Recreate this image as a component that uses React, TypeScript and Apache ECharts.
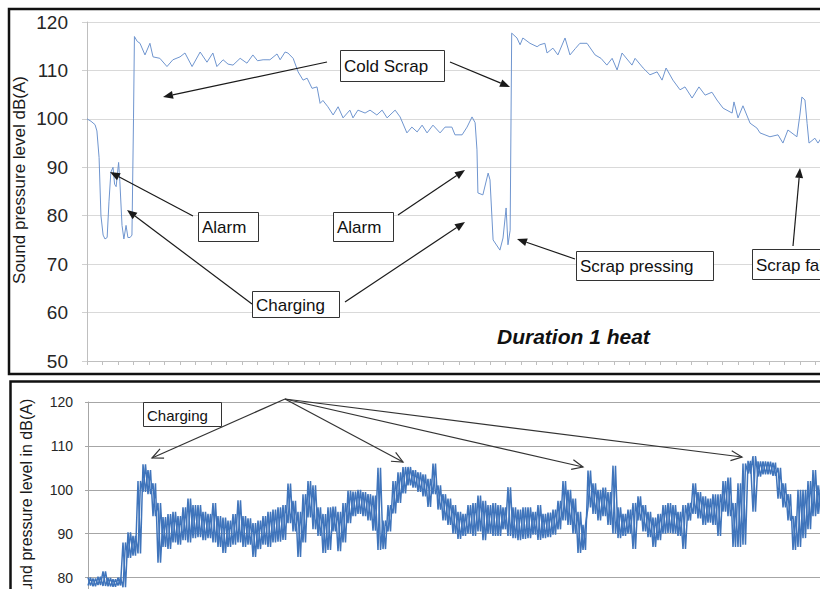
import React, { useEffect, useRef } from "react";
import * as echarts from "echarts";

// ---------- Top chart: one heat (time in arbitrary units, level in dB(A)) ----------
const topTime = [
  0, 1.3, 2.6, 3.2, 3.9, 4.5, 5.2, 5.8, 6.5, 7.1, 7.7, 8.4, 8.9, 9.4, 10.2, 10.6, 11.3, 11.9, 12.6, 13.2,
  13.9, 14.5, 15.0, 15.3, 16.2, 17.1, 18.7, 20.3, 21.3, 23.5, 25.8, 27.7, 30, 31.6, 33.9, 36.5, 38.7, 40.6,
  41.9, 43.9, 45.5, 47.1, 49.4, 51.6, 53.5, 55, 56.8, 59, 61.3, 62.3, 63.9, 64.8, 66.5, 68.1, 69.7, 71, 72.6,
  74.2, 75.2, 76.1, 77.7, 79.4, 81, 82.6, 84.8, 85.8, 87.4, 89.7, 91.3, 93.5, 95.2, 96.8, 98.4, 99.4, 101,
  103.2, 104.8, 106.5, 108.1, 109.7, 111.6, 113.9, 115.5, 117.7, 118.7, 121, 122.6, 124.2, 125.2, 125.8,
  126.1, 127.7, 129.4, 130, 131, 133.2, 134.2, 135.2, 135.8, 136.5, 137, 138.7, 139.7, 140.6, 142.9, 145.2,
  146.1, 147.7, 148.4, 150.3, 151.9, 154.2, 155.8, 157.5, 159, 161.3, 163.9, 165.8, 167.7, 169.4, 171,
  172.6, 175.8, 176.8, 179.4, 181.6, 183.9, 185.5, 186.8, 189, 191.3, 192.9, 195.2, 197.4, 199.4, 201.6,
  203.2, 205.2, 208.1, 208.7, 210, 211.6, 213.9, 216.1, 217.1, 218.7, 220.3, 222.9, 224.5, 226.1, 229, 230,
  230.6, 231.6, 232.3, 232.9, 234.8, 235.8, 237.1, 239,
];
const topLevel = [
  100, 99.5, 98.8, 97.5, 92, 80, 76, 75.2, 75.5, 83, 89, 90, 86.5, 86, 91, 87, 78, 75.2, 78, 75.5,
  75.5, 76, 100, 117, 116, 115.6, 113.2, 115.6, 112.8, 112.5, 110.8, 112.2, 112.8, 113.6, 110.8, 113.8, 111.7, 113.6,
  110.8, 112.2, 111.3, 111.1, 112.5, 111.5, 113.2, 112, 112.2, 112.2, 113.4, 112.2, 113.8, 113.6, 112.5, 109.7, 108, 108.4, 106.3,
  106.6, 103.2, 103.8, 102.5, 100.8, 102.5, 100.2, 101.8, 100.2, 101.8, 101.2, 101.8, 100.8, 101.8, 100.2, 101.2, 101.8, 100.4,
  97.1, 98.3, 97.3, 98.7, 97.1, 98.7, 97.1, 98.3, 98.3, 96.7, 96.7, 98.3, 100.4, 99.2, 93.6,
  84.7, 84.3, 88.8, 87.4, 75, 72.9, 75.4, 81.6, 74, 77, 117.7, 116.7, 115.3, 116.7, 115.6, 114.9,
  115.3, 115.6, 113.6, 114.6, 113.2, 116.7, 113.2, 114.5, 115.6, 115.6, 113.2, 112.5, 111.1, 112.5, 110.1,
  113.6, 111.1, 112.5, 110.5, 109.1, 109.7, 108, 110.5, 108, 106, 106.6, 104.3, 106.6, 104.9, 105.5,
  103.9, 102.2, 101.2, 103.5, 100.2, 102.7, 99.1, 98.1, 97.1, 96.7, 96.3, 96.7, 95, 97.7, 96.3, 101,
  104.5, 103.9, 99, 95, 96, 95, 96.3, 95.5,
];

// ---------- Bottom chart: dense recording, per-bin maximum / minimum in dB(A) ----------
const bottomMax = [
  80.0, 79.8, 80.2, 81.4, 79.9, 79.6, 80.0, 88.0, 90.3, 89.5, 102.0, 105.8, 104.5, 101.5, 97.0,
  93.8, 94.5, 95.0, 94.0, 96.0, 98.0, 96.5, 96.5, 95.0, 94.5, 97.0, 94.0, 93.7, 93.0, 94.5,
  97.6, 94.0, 93.5, 92.4, 93.0, 94.0, 95.0, 95.5, 96.0, 96.5, 101.4, 97.5, 95.0, 99.0, 102.0,
  101.0, 96.0, 94.5, 96.0, 96.2, 95.0, 97.0, 99.8, 99.6, 100.0, 99.5, 99.0, 98.7, 105.0, 93.0,
  96.5, 102.0, 104.0, 105.2, 105.2, 104.5, 104.0, 103.5, 102.5, 106.0, 101.0, 99.0, 98.0, 96.5, 95.0,
  94.5, 96.5, 97.0, 98.7, 97.5, 96.5, 97.0, 96.5, 96.0, 100.6, 96.0, 95.5, 96.0, 96.0, 95.0,
  96.5, 94.5, 94.8, 95.5, 97.5, 102.0, 100.0, 98.0, 95.0, 92.0, 104.4, 101.5, 100.0, 100.5, 99.5,
  105.5, 96.0, 94.5, 95.5, 97.0, 98.5, 96.5, 95.0, 93.7, 94.5, 96.5, 97.0, 96.5, 95.0, 96.5,
  97.0, 101.5, 99.5, 98.5, 98.0, 99.0, 99.0, 102.0, 102.8, 97.0, 101.5, 106.0, 106.6, 107.7, 106.5,
  106.5, 106.4, 106.2, 105.0, 101.5, 99.0, 94.0, 100.0, 100.0, 102.0, 104.5, 101.0,
];
const bottomMin = [
  78.2, 78.0, 78.3, 78.1, 78.0, 77.9, 78.2, 77.8, 84.5, 85.0, 85.5, 99.5, 99.0, 94.0, 83.4,
  87.0, 86.5, 88.0, 87.5, 88.5, 88.0, 89.0, 89.2, 88.5, 89.0, 88.0, 87.0, 85.6, 87.0, 87.5,
  88.0, 87.0, 87.5, 84.7, 86.5, 87.5, 87.0, 88.0, 88.2, 88.6, 92.4, 90.5, 84.7, 88.0, 93.7,
  91.0, 89.5, 85.6, 86.3, 90.5, 86.0, 88.0, 92.4, 94.0, 94.5, 94.0, 93.0, 90.7, 86.3, 86.5,
  90.5, 94.6, 97.0, 99.2, 101.0, 100.5, 99.5, 98.5, 96.1, 99.0, 95.5, 93.0, 92.0, 90.0, 88.8,
  89.5, 90.0, 89.5, 90.5, 88.5, 90.0, 89.5, 89.5, 91.0, 89.5, 89.0, 88.5, 88.8, 89.0, 89.8,
  88.6, 89.0, 89.2, 89.8, 91.0, 93.0, 92.0, 90.0, 85.6, 86.3, 96.0, 94.5, 93.0, 94.0, 92.0,
  90.0, 89.0, 89.5, 90.0, 86.5, 93.0, 90.5, 89.2, 87.0, 88.5, 90.0, 90.2, 90.0, 89.5, 86.5,
  93.0, 94.5, 93.5, 92.0, 92.5, 92.0, 89.5, 95.0, 94.0, 87.0, 87.0, 87.5, 103.7, 95.0, 103.0,
  103.5, 103.5, 103.2, 98.0, 96.0, 93.0, 86.3, 87.0, 89.0, 91.0, 94.0, 94.5,
];

const FONT = "'Liberation Sans', Arial, 'DejaVu Sans', sans-serif";

type Box = { text: string; x: number; y: number; w: number; h: number; size: number };
const boxes: Box[] = [
  { text: "Cold Scrap", x: 340, y: 50, w: 104, h: 31, size: 17 },
  { text: "Alarm", x: 198, y: 212, w: 60, h: 29, size: 17 },
  { text: "Alarm", x: 333, y: 212, w: 60, h: 29, size: 17 },
  { text: "Charging", x: 252, y: 291, w: 87, h: 26, size: 17 },
  { text: "Scrap pressing", x: 576, y: 251, w: 137, h: 29, size: 17 },
  { text: "Scrap falling", x: 752, y: 249, w: 140, h: 30, size: 17 },
  { text: "Charging", x: 143, y: 402, w: 78, h: 24, size: 15 },
];

// [x1, y1, x2 (head), y2 (head)]
const topArrows = [
  [327, 62, 163, 97],
  [450, 62, 510, 87],
  [193, 216, 110, 172],
  [398, 215, 465, 170],
  [252, 304, 127, 210],
  [345, 302, 465, 222],
  [575, 259, 517, 239],
  [793, 246, 800, 168],
];
const bottomArrowStart = [285, 399];
const bottomArrowHeads = [
  [152, 458],
  [403, 462],
  [583, 467],
  [742, 457],
];

function arrow(x1: number, y1: number, x2: number, y2: number, filled: boolean, color: string) {
  const a = Math.atan2(y2 - y1, x2 - x1);
  const L = filled ? 10 : 11;
  const W = filled ? 4 : 5;
  const bx = x2 - L * Math.cos(a);
  const by = y2 - L * Math.sin(a);
  const px = -Math.sin(a) * W;
  const py = Math.cos(a) * W;
  const els: any[] = [
    {
      type: "line",
      z: 50,
      shape: { x1, y1, x2: filled ? bx : x2, y2: filled ? by : y2 },
      style: { stroke: color, lineWidth: 1.2 },
    },
  ];
  if (filled) {
    els.push({
      type: "polygon",
      z: 50,
      shape: { points: [[x2, y2], [bx + px, by + py], [bx - px, by - py]] },
      style: { fill: color },
    });
  } else {
    els.push({
      type: "polyline",
      z: 50,
      shape: { points: [[bx + px, by + py], [x2, y2], [bx - px, by - py]] },
      style: { stroke: color, lineWidth: 1.2, fill: null },
    });
  }
  return els;
}

export default function App() {
  const ref = useRef<HTMLDivElement>(null);

  useEffect(() => {
    if (!ref.current) return;
    const chart = echarts.init(ref.current, null, { renderer: "svg" });

    const topData = topTime.map((t, i) => [t, topLevel[i]]);
    // each bin drawn as max->min and as min->max, giving the dense hatched band of the recording
    const bottomDataA: number[][] = [];
    const bottomDataB: number[][] = [];
    bottomMax.forEach((mx, i) => {
      bottomDataA.push([i, mx]);
      bottomDataA.push([i + 0.5, bottomMin[i]]);
      bottomDataB.push([i, bottomMin[i]]);
      bottomDataB.push([i + 0.5, mx]);
    });

    const graphics: any[] = [
      {
        type: "rect",
        z: 1,
        silent: true,
        shape: { x: 9, y: 9, width: 880, height: 365 },
        style: { fill: null, stroke: "#111", lineWidth: 2.5 },
      },
      {
        type: "rect",
        z: 1,
        silent: true,
        shape: { x: 10.5, y: 381.5, width: 880, height: 300 },
        style: { fill: null, stroke: "#111", lineWidth: 2.5 },
      },
      {
        type: "text",
        z: 60,
        x: 19,
        y: 180,
        rotation: Math.PI / 2,
        style: {
          text: "Sound pressure level dB(A)",
          fontSize: 17,
          fontFamily: FONT,
          fill: "#1a1a1a",
          align: "center",
          verticalAlign: "middle",
        },
      },
      {
        type: "text",
        z: 60,
        x: 26,
        y: 505,
        rotation: Math.PI / 2,
        style: {
          text: "Sound pressure level in dB(A)",
          fontSize: 16,
          fontFamily: FONT,
          fill: "#1a1a1a",
          align: "center",
          verticalAlign: "middle",
        },
      },
      {
        type: "text",
        z: 60,
        x: 497,
        y: 336,
        style: {
          text: "Duration 1 heat",
          fontSize: 21,
          fontWeight: "bold",
          fontStyle: "italic",
          fontFamily: FONT,
          fill: "#111",
          align: "left",
          verticalAlign: "middle",
        },
      },
    ];

    boxes.forEach((b) => {
      graphics.push({
        type: "rect",
        z: 70,
        shape: { x: b.x + 0.5, y: b.y + 0.5, width: b.w, height: b.h },
        style: { fill: "#ffffff", stroke: "#333", lineWidth: 1 },
      });
      graphics.push({
        type: "text",
        z: 71,
        x: b.x + 4,
        y: b.y + b.h / 2 + 1,
        style: {
          text: b.text,
          fontSize: b.size,
          fontFamily: FONT,
          fill: "#111",
          align: "left",
          verticalAlign: "middle",
        },
      });
    });

    topArrows.forEach(([x1, y1, x2, y2]) => graphics.push(...arrow(x1, y1, x2, y2, true, "#1a1a1a")));
    bottomArrowHeads.forEach(([x2, y2]) =>
      graphics.push(...arrow(bottomArrowStart[0], bottomArrowStart[1], x2, y2, false, "#333"))
    );

    const bottomLine = { color: "#3f74bb", width: 1.5 };

    chart.setOption({
      animation: false,
      backgroundColor: "#ffffff",
      textStyle: { fontFamily: FONT },
      grid: [
        { left: 87, top: 22, width: 775, height: 339 },
        { left: 88, top: 402, width: 750, height: 219.5 },
      ],
      xAxis: [
        {
          type: "value",
          gridIndex: 0,
          min: 0,
          max: 250,
          interval: 5,
          axisLabel: { show: false },
          axisLine: { show: true, lineStyle: { color: "#bfbfbf" } },
          axisTick: { show: true, length: 4, lineStyle: { color: "#bfbfbf" } },
          splitLine: { show: false },
        },
        {
          type: "value",
          gridIndex: 1,
          min: 0,
          max: 150,
          interval: 10,
          axisLabel: { show: false },
          axisLine: { show: true, lineStyle: { color: "#a6a6a6" } },
          axisTick: { show: false },
          splitLine: { show: false },
        },
      ],
      yAxis: [
        {
          type: "value",
          gridIndex: 0,
          min: 50,
          max: 120,
          interval: 10,
          axisLine: { show: true, lineStyle: { color: "#bfbfbf" } },
          axisTick: { show: true, length: 5, lineStyle: { color: "#d0d0d0" } },
          splitLine: { show: true, lineStyle: { color: "#d9d9d9" } },
          axisLabel: { fontSize: 19, color: "#262626", margin: 19, fontFamily: FONT },
        },
        {
          type: "value",
          gridIndex: 1,
          min: 70,
          max: 120,
          interval: 10,
          axisLine: { show: true, lineStyle: { color: "#a6a6a6" } },
          axisTick: { show: true, length: 3, lineStyle: { color: "#a6a6a6" } },
          splitLine: { show: true, lineStyle: { color: "#a6a6a6" } },
          axisLabel: { fontSize: 14, color: "#262626", margin: 15, fontFamily: FONT },
        },
      ],
      series: [
        {
          type: "line",
          xAxisIndex: 0,
          yAxisIndex: 0,
          data: topData,
          showSymbol: false,
          lineStyle: { color: "#6f95cf", width: 1 },
          itemStyle: { color: "#6f95cf" },
        },
        {
          type: "line",
          xAxisIndex: 1,
          yAxisIndex: 1,
          data: bottomDataA,
          showSymbol: false,
          lineStyle: bottomLine,
          itemStyle: { color: "#3f74bb" },
        },
        {
          type: "line",
          xAxisIndex: 1,
          yAxisIndex: 1,
          data: bottomDataB,
          showSymbol: false,
          lineStyle: bottomLine,
          itemStyle: { color: "#3f74bb" },
        },
      ],
      graphic: graphics,
    });

    return () => chart.dispose();
  }, []);

  return (
    <div
      style={{
        position: "fixed",
        left: 0,
        top: 0,
        width: 820,
        height: 589,
        overflow: "hidden",
        background: "#fff",
      }}
    >
      <div ref={ref} style={{ width: 900, height: 700 }} />
    </div>
  );
}
